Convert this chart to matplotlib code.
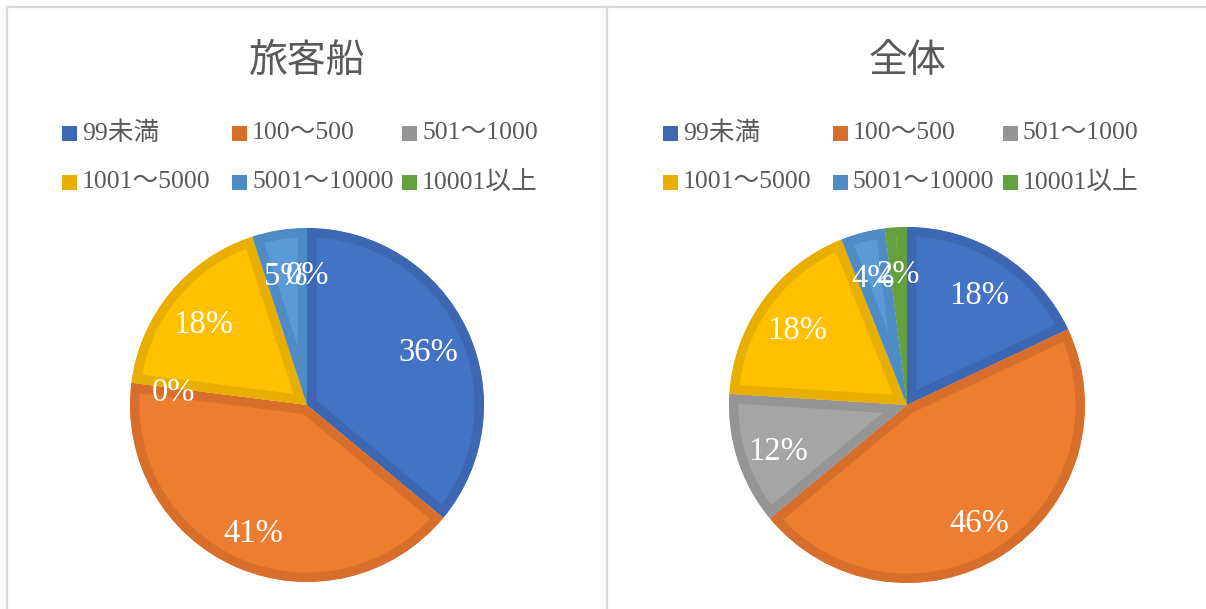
import matplotlib
matplotlib.use("Agg")
import matplotlib.pyplot as plt
from matplotlib.patches import Rectangle
from matplotlib.lines import Line2D
from matplotlib.transforms import offset_copy

plt.rcParams['font.family'] = ['Liberation Serif', 'Noto Sans CJK JP', 'DejaVu Sans']

# データ
categories = ['99未満', '100～500', '501～1000', '1001～5000', '5001～10000', '10001以上']
ship_values = [36, 41, 0, 18, 5, 0]
total_values = [18, 46, 12, 18, 4, 2]
titles = ['旅客船', '全体']

face_colors = ['#4472C4', '#ED7D31', '#A5A5A5', '#FFC000', '#5B9BD5', '#70AD47']
edge_colors = ['#3E67B3', '#D86E2B', '#959595', '#E8AE00', '#4F8BC4', '#65A040']

W, H = 1206, 609
fig = plt.figure(figsize=(W / 100, H / 100), dpi=100)
fig.patch.set_facecolor('white')

TEXT = '#595959'
GRID = '#D9D9D9'


def fx(px):
    return px / W


def fy(py):
    return 1 - py / H


# 枠線
for line in [((7, 7), (7, H)), ((7, W), (7, 7)), ((606.5, 606.5), (7, H))]:
    xs, ys = line
    fig.add_artist(Line2D([fx(x) for x in xs], [fy(y) for y in ys],
                          color=GRID, lw=1.6, transform=fig.transFigure))


def draw_panel(values, title, cx, cy, r, offset):
    ax = fig.add_axes([fx(cx - r), fy(cy + r), 2 * r / W, 2 * r / H])
    wedges, _, autotexts = ax.pie(
        values, colors=face_colors, startangle=90, counterclock=False,
        radius=1.0, autopct='%.0f%%', pctdistance=0.76,
        wedgeprops=dict(linewidth=13.5), textprops=dict(color='white', fontsize=23.5))
    # 枠線はくさびの内側だけに描く
    for w, ec in zip(wedges, edge_colors):
        w.set_edgecolor(ec)
        w.set_clip_on(True)
        w.set_clip_path(w)
    for t in autotexts:
        t.set_transform(offset_copy(ax.transData, fig=fig, x=0, y=-5, units='dots'))
    ax.set_xlim(-1, 1)
    ax.set_ylim(-1, 1)
    ax.set_aspect('equal')
    ax.axis('off')

    fig.text(fx(cx), fy(61), title, ha='center', va='center',
             fontsize=28, color=TEXT, family=['Noto Sans CJK JP'])

    # 凡例
    col_x = [62, 232, 402]
    row_y = [133, 182]
    for i, (name, col) in enumerate(zip(categories, edge_colors)):
        x = col_x[i % 3] + offset
        y = row_y[i // 3]
        fig.add_artist(Rectangle((fx(x), fy(y + 7.5)), 15 / W, 15 / H,
                                 facecolor=col, edgecolor='none',
                                 transform=fig.transFigure))
        fig.text(fx(x + 20), fy(y), name, ha='left', va='center',
                 fontsize=18.5, color=TEXT)


draw_panel(ship_values, titles[0], 307, 405, 177, 0)
draw_panel(total_values, titles[1], 907, 405, 178, 601)

fig.savefig('out.png', dpi=100, facecolor='white')
